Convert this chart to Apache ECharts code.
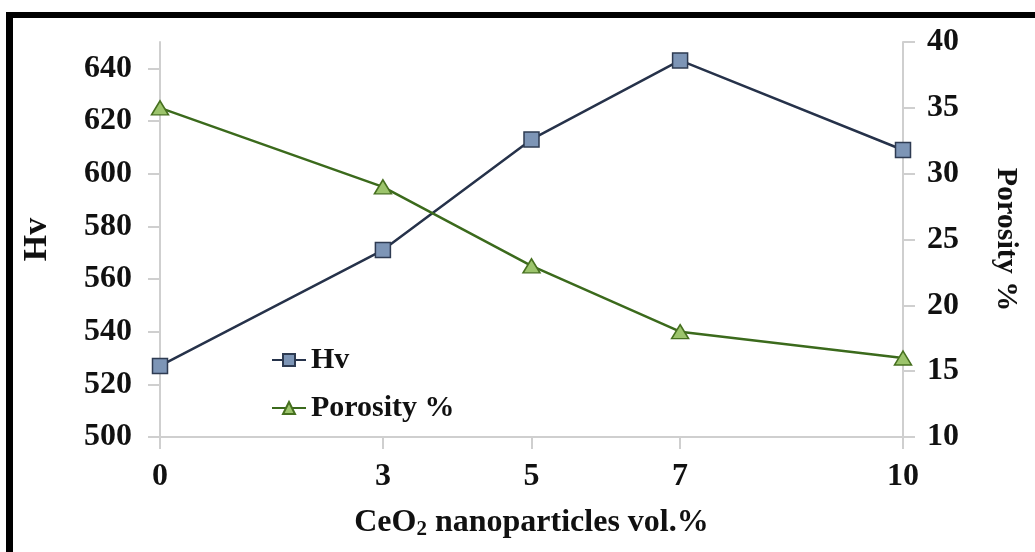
<!DOCTYPE html>
<html>
<head>
<meta charset="utf-8">
<script src="https://cdn.jsdelivr.net/npm/echarts@6/dist/echarts.min.js"></script>
<style>
html,body{margin:0;padding:0;background:#fff;}
#chart{width:1035px;height:552px;}
</style>
</head>
<body>
<div id="chart"></div>
<script>
const xValues = [0, 3, 5, 7, 10];
const hvValues = [527, 571, 613, 643, 609];
const porosityValues = [35, 29, 23, 18, 16];
const xTicks = [0, 3, 5, 7, 10];

const font = '"Liberation Serif", "Times New Roman", serif';
const axisGray = '#cfcfcf';

const chart = echarts.init(document.getElementById('chart'));
chart.setOption({
  animation: false,
  backgroundColor: '#fff',
  textStyle: { fontFamily: font },
  graphic: [
    { type: 'rect', shape: { x: 6, y: 12, width: 1029, height: 6 }, style: { fill: '#000' } },
    { type: 'rect', shape: { x: 6, y: 12, width: 7, height: 540 }, style: { fill: '#000' } }
  ],
  grid: { left: 160, right: 132, top: 42, bottom: 115 },
  legend: {
    orient: 'vertical',
    left: 266,
    top: 340,
    itemWidth: 34,
    itemHeight: 15,
    itemGap: 18,
    textStyle: { fontFamily: font, fontWeight: 'bold', fontSize: 30, color: '#111' },
    data: ['Hv', 'Porosity %']
  },
  xAxis: {
    type: 'value',
    min: 0, max: 10,
    name: '{a|CeO}{b|2}{a| nanoparticles vol.%}',
    nameLocation: 'middle',
    nameGap: 68,
    nameTextStyle: {
      rich: {
        a: { fontFamily: font, fontWeight: 'bold', fontSize: 32, color: '#111' },
        b: { fontFamily: font, fontWeight: 'bold', fontSize: 21, color: '#111', padding: [14, 0, 0, 0] }
      }
    },
    axisLine: { lineStyle: { color: axisGray, width: 2 } },
    axisTick: { show: true, length: 12, lineStyle: { color: axisGray, width: 2 }, customValues: xTicks },
    axisLabel: { customValues: xTicks, margin: 24, fontFamily: font, fontWeight: 'bold', fontSize: 32, color: '#111' },
    splitLine: { show: false }
  },
  yAxis: [
    {
      type: 'value',
      min: 500, max: 650, interval: 20,
      position: 'left',
      name: 'Hv',
      nameLocation: 'middle',
      nameGap: 106,
      nameTextStyle: { fontFamily: font, fontWeight: 'bold', fontSize: 34, color: '#111' },
      axisLine: { show: true, lineStyle: { color: axisGray, width: 2 } },
      axisTick: { show: true, length: 12, lineStyle: { color: axisGray, width: 2 } },
      axisLabel: { margin: 28, showMaxLabel: false, fontFamily: font, fontWeight: 'bold', fontSize: 32, color: '#111' },
      splitLine: { show: false }
    },
    {
      type: 'value',
      min: 10, max: 40, interval: 5,
      position: 'right',
      name: 'Porosity %',
      nameLocation: 'middle',
      nameRotate: -90,
      nameGap: 88,
      nameTextStyle: { fontFamily: font, fontWeight: 'bold', fontSize: 30, color: '#111' },
      axisLine: { show: true, lineStyle: { color: axisGray, width: 2 } },
      axisTick: { show: true, length: 12, lineStyle: { color: axisGray, width: 2 } },
      axisLabel: { margin: 24, fontFamily: font, fontWeight: 'bold', fontSize: 32, color: '#111' },
      splitLine: { show: false }
    }
  ],
  series: [
    {
      name: 'Hv',
      type: 'line',
      yAxisIndex: 0,
      data: xValues.map((x, i) => [x, hvValues[i]]),
      symbol: 'rect',
      symbolSize: 15,
      lineStyle: { color: '#26324a', width: 2.5 },
      itemStyle: { color: '#7d95b6', borderColor: '#2e3b52', borderWidth: 1.5 }
    },
    {
      name: 'Porosity %',
      type: 'line',
      yAxisIndex: 1,
      data: xValues.map((x, i) => [x, porosityValues[i]]),
      symbol: 'triangle',
      symbolSize: [17, 14],
      lineStyle: { color: '#3b6a1c', width: 2.5 },
      itemStyle: { color: '#9cc46c', borderColor: '#46701f', borderWidth: 1.5 }
    }
  ]
});
</script>
</body>
</html>
